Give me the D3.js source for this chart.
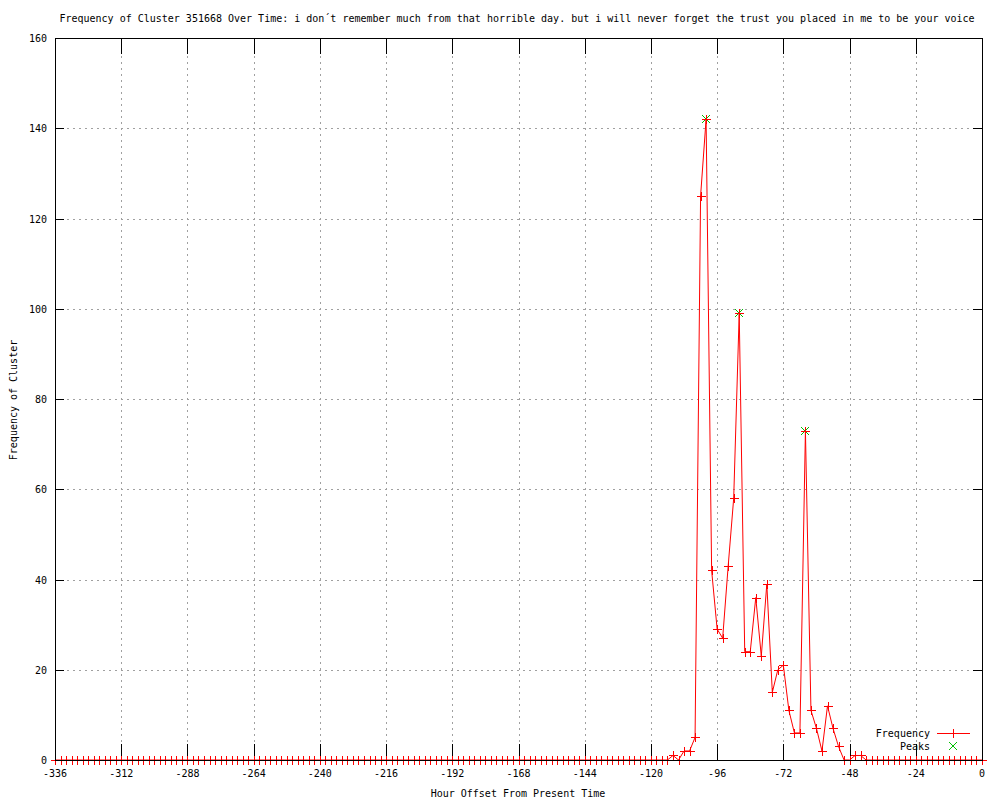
<!DOCTYPE html>
<html>
<head>
<meta charset="utf-8">
<script src="https://cdn.jsdelivr.net/npm/d3@7"></script>
<style>
body { margin: 0; background: #fff; }
text { font-family: "DejaVu Sans Mono", "Liberation Mono", monospace; font-size: 10px; fill: #000; }
</style>
</head>
<body>
<div id="chart"></div>
<script>
// hourly offsets (every 2 hours) and the cluster frequency at each
var hours = d3.range(-336, 1, 2);
var freq = [
    0,0,0,0,0,0,0,0,0,0,
    0,0,0,0,0,0,0,0,0,0,
    0,0,0,0,0,0,0,0,0,0,
    0,0,0,0,0,0,0,0,0,0,
    0,0,0,0,0,0,0,0,0,0,
    0,0,0,0,0,0,0,0,0,0,
    0,0,0,0,0,0,0,0,0,0,
    0,0,0,0,0,0,0,0,0,0,
    0,0,0,0,0,0,0,0,0,0,
    0,0,0,0,0,0,0,0,0,0,
    0,0,0,0,0,0,0,0,0,0,   // up to -118
    0,0,1,0,2,2,5,125,142,42,   // -116 .. -98
    29,27,43,58,99,24,24,36,23,39,   // -96 .. -78
    15,20,21,11,6,6,73,11,7,2,   // -76 .. -58
    12,7,3,0,0,1,1,   // -56 .. -44
    0,0,0,0,0,0,0,0,0,0,0,
    0,0,0,0,0,0,0,0,0,0,0    // -42 .. 0
];
var peakHours = [-100, -88, -64];
var peakValues = [142, 99, 73];
var xTicks = [-336, -312, -288, -264, -240, -216, -192, -168, -144, -120, -96, -72, -48, -24, 0];
var yTicks = [0, 20, 40, 60, 80, 100, 120, 140, 160];

var titleText = "Frequency of Cluster 351668 Over Time: i don\u00b4t remember much from that horrible day. but i will never forget the trust you placed in me to be your voice";

var W = 1000, H = 800;
var margin = {top: 38, right: 18, bottom: 40, left: 55};
var width = W - margin.left - margin.right,
    height = H - margin.top - margin.bottom;

var svg = d3.select("#chart").append("svg")
    .attr("width", W).attr("height", H);

var g = svg.append("g")
    .attr("transform", "translate(" + margin.left + "," + margin.top + ")");

var x = d3.scaleLinear().domain([-336, 0]).range([0, width]);
var y = d3.scaleLinear().domain([0, 160]).range([height, 0]);

var data = hours.map(function(h, i) { return {x: h, y: freq[i]}; });
var peaks = peakHours.map(function(h, i) { return {x: h, y: peakValues[i]}; });

// grid (dotted)
g.selectAll(".gx").data(xTicks.slice(1, -1)).enter().append("line")
    .attr("x1", function(d) { return Math.round(x(d)) + 0.5; })
    .attr("x2", function(d) { return Math.round(x(d)) + 0.5; })
    .attr("y1", 0).attr("y2", height)
    .attr("stroke", "#a0a0a0").attr("stroke-dasharray", "2,4");
g.selectAll(".gy").data(yTicks.slice(1, -1)).enter().append("line")
    .attr("y1", function(d) { return Math.round(y(d)) + 0.5; })
    .attr("y2", function(d) { return Math.round(y(d)) + 0.5; })
    .attr("x1", 0).attr("x2", width)
    .attr("stroke", "#a0a0a0").attr("stroke-dasharray", "2,4");

// tick marks (inward, mirrored)
var xt = 16, yt = 9;
xTicks.slice(1, -1).forEach(function(d) {
    var px = Math.round(x(d)) + 0.5;
    g.append("line").attr("x1", px).attr("x2", px).attr("y1", height).attr("y2", height - xt).attr("stroke", "#000");
    g.append("line").attr("x1", px).attr("x2", px).attr("y1", 0).attr("y2", xt).attr("stroke", "#000");
});
yTicks.slice(1, -1).forEach(function(d) {
    var py = Math.round(y(d)) + 0.5;
    g.append("line").attr("y1", py).attr("y2", py).attr("x1", 0).attr("x2", yt).attr("stroke", "#000");
    g.append("line").attr("y1", py).attr("y2", py).attr("x1", width).attr("x2", width - yt).attr("stroke", "#000");
});

// frequency line
var line = d3.line()
    .x(function(d) { return x(d.x); })
    .y(function(d) { return y(d.y); });

g.append("path")
    .datum(data)
    .attr("d", line)
    .attr("fill", "none")
    .attr("stroke", "#ff0000")
    .attr("stroke-width", 1);

// peaks: green crosses
function cross(sel, s) {
    sel.append("path")
        .attr("d", "M" + (-s) + "," + (-s) + "L" + s + "," + s + "M" + (-s) + "," + s + "L" + s + "," + (-s))
        .attr("stroke", "#00c000").attr("fill", "none");
}
function plus(sel, s) {
    sel.append("path")
        .attr("d", "M" + (-s) + ",0.5H" + (s + 1) + "M0.5," + (-s) + "V" + (s + 1))
        .attr("stroke", "#ff0000").attr("fill", "none");
}

g.selectAll(".peak").data(peaks).enter().append("g")
    .attr("transform", function(d) { return "translate(" + Math.round(x(d.x)) + "," + Math.round(y(d.y)) + ")"; })
    .each(function() { cross(d3.select(this), 4); });

g.selectAll(".pt").data(data).enter().append("g")
    .attr("transform", function(d) { return "translate(" + Math.round(x(d.x)) + "," + Math.round(y(d.y)) + ")"; })
    .each(function() { plus(d3.select(this), 4); });

// border
g.append("rect")
    .attr("x", 0.5).attr("y", 0.5)
    .attr("width", width).attr("height", height)
    .attr("fill", "none").attr("stroke", "#000");

// tick labels
g.selectAll(".xl").data(xTicks).enter().append("text")
    .attr("x", function(d) { return x(d); })
    .attr("y", height + 17)
    .attr("text-anchor", "middle")
    .text(function(d) { return d; });
g.selectAll(".yl").data(yTicks).enter().append("text")
    .attr("x", -8)
    .attr("y", function(d) { return y(d) + 4; })
    .attr("text-anchor", "end")
    .text(function(d) { return d; });

// title and axis labels
svg.append("text")
    .attr("x", 517).attr("y", 22)
    .attr("text-anchor", "middle")
    .text(titleText);
svg.append("text")
    .attr("x", 518).attr("y", 797)
    .attr("text-anchor", "middle")
    .text("Hour Offset From Present Time");
svg.append("text")
    .attr("transform", "translate(17,400) rotate(-90)")
    .attr("text-anchor", "middle")
    .text("Frequency of Cluster");

// legend
var leg = svg.append("g");
leg.append("text").attr("x", 930).attr("y", 737).attr("text-anchor", "end").text("Frequency");
leg.append("line").attr("x1", 937).attr("x2", 970).attr("y1", 733.5).attr("y2", 733.5).attr("stroke", "#ff0000");
leg.append("g").attr("transform", "translate(953,733)").call(plus, 4);
leg.append("text").attr("x", 930).attr("y", 750).attr("text-anchor", "end").text("Peaks");
leg.append("g").attr("transform", "translate(953,746)").call(cross, 4);
</script>
</body>
</html>
